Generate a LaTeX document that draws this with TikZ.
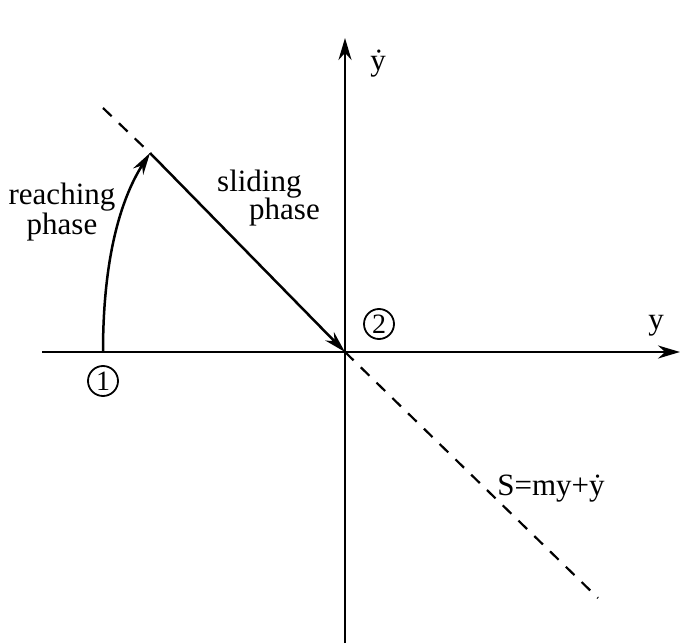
\documentclass[tikz,border=0pt]{standalone}
\usepackage{fontspec}
\setmainfont{Liberation Serif}
\usetikzlibrary{arrows.meta}
\begin{document}
\begin{tikzpicture}[x=1pt,y=-1pt,
  axis/.style={line width=2.5pt,-{Stealth[length=22pt,width=13pt]}},
  traj/.style={line width=2.5pt,-{Stealth[length=22pt,width=12pt]}},
  surf/.style={line width=2.2pt,dash pattern=on 12pt off 10pt},
  lbl/.style={font=\fontsize{31}{34}\selectfont,inner sep=0pt,align=center},
  circ/.style={draw,circle,line width=1.8pt,minimum size=30pt,inner sep=0pt,font=\fontsize{28}{30}\selectfont}]
\useasboundingbox (0,0) rectangle (680,644);
\coordinate (O) at (345,352);
\coordinate (xl) at (42,352);
\coordinate (xr) at (680,352);
\coordinate (yb) at (345,643);
\coordinate (yt) at (345,38);
\coordinate (d1) at (103,108);
\coordinate (P) at (150,153);
\coordinate (d2) at (598,598);
\coordinate (S1) at (103,352);
\draw[axis] (xl) -- (xr);
\draw[axis] (yb) -- (yt);
\draw[surf] (d1) -- (P);
\draw[surf] (O) -- (d2);
\draw[traj] (P) -- (O);
\draw[traj] (S1) .. controls (103,260) and (120,200) .. (P);
\node[lbl] (ydot) at (378,64) {\.{y}};
\node[lbl] (ylab) at (656,326) {y};
\node[circ] (c1) at (103,381) {1};
\node[circ] (c2) at (379,324) {2};
\node[lbl] (reach) at (62,212) {reaching\\[-4pt]phase};
\node[lbl,anchor=west] (sl1) at (217,184) {sliding};
\node[lbl,anchor=west] (sl2) at (249,212) {phase};
\node[lbl] (slab) at (551,489) {S=my+\.{y}};
\end{tikzpicture}
\end{document}
